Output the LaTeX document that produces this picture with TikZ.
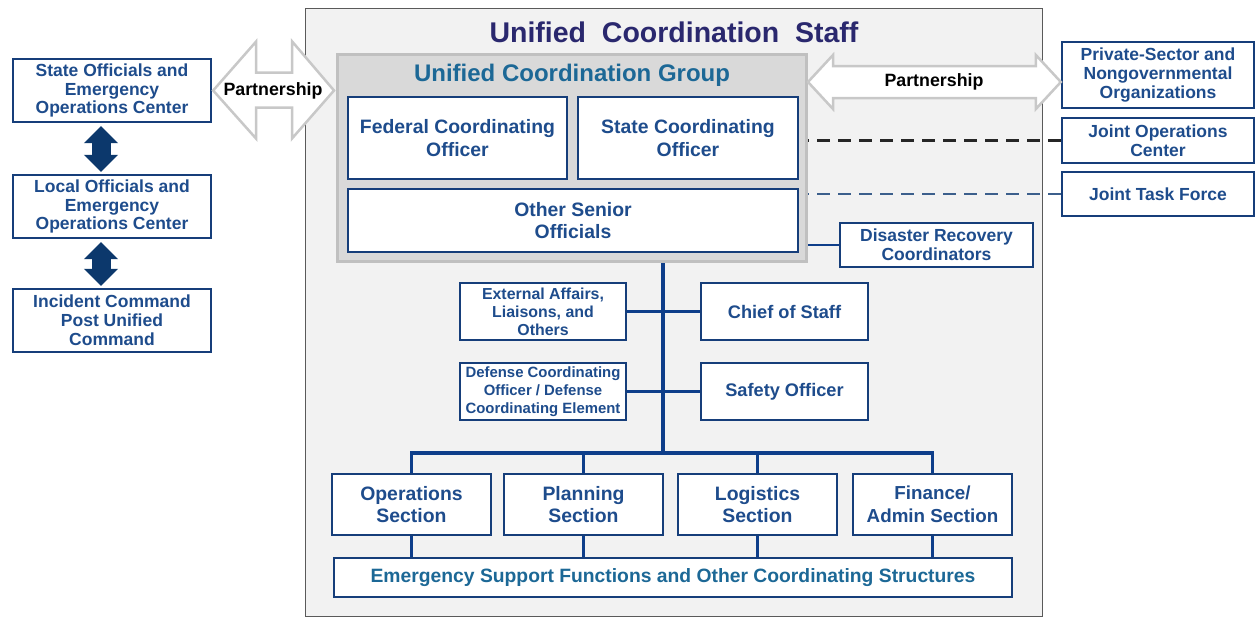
\documentclass[tikz,border=0pt]{standalone}
\usepackage{fontspec}
\setmainfont{Liberation Sans}
\usetikzlibrary{calc,arrows.meta}

\pgfdeclarelayer{frame}
\pgfdeclarelayer{links}
\pgfdeclarelayer{group}
\pgfsetlayers{frame,links,group,main}

\definecolor{navy}{RGB}{22,62,122}
\definecolor{boxtext}{RGB}{30,76,140}
\definecolor{ucteal}{RGB}{28,104,150}
\definecolor{titleblue}{RGB}{42,40,110}
\definecolor{linkblue}{RGB}{14,62,138}
\definecolor{arrownavy}{RGB}{12,56,108}
\definecolor{staffbg}{RGB}{242,242,242}
\definecolor{staffline}{RGB}{90,90,90}
\definecolor{groupbg}{RGB}{217,217,217}
\definecolor{groupline}{RGB}{192,192,192}
\definecolor{partline}{RGB}{200,200,200}
\definecolor{dashblue}{RGB}{60,95,140}

\tikzset{
  boxsize/.style 2 args={minimum width=#1, minimum height=#2},
  orgbox/.style={draw=navy, line width=2.3pt, fill=white, text=boxtext,
    font=\bfseries\fontsize{17.5}{18.8}\selectfont, align=center, inner sep=0pt},
  bigbox/.style={orgbox, font=\bfseries\fontsize{19.4}{22.8}\selectfont},
  link/.style={draw=linkblue, line width=3.8pt},
  thinlink/.style={draw=linkblue, line width=2.8pt},
  dashlink/.style={line width=2.8pt, dash pattern=on 13pt off 8pt},
  partarrow/.style={draw=partline, fill=white, line width=2.5pt, line join=miter},
  parttext/.style={font=\bfseries\fontsize{17.8}{20}\selectfont, text=black, inner sep=0pt},
  updown/.style={draw=arrownavy, line width=19pt,
    {Triangle[width=33pt,length=17pt]}-{Triangle[width=33pt,length=17pt]},
    shorten <=3pt, shorten >=2pt},
}

\begin{document}
\begin{tikzpicture}[x=1pt,y=-1pt]
\useasboundingbox (0,0) rectangle (1257,618);

% page and staff frame
\begin{pgfonlayer}{frame}
  \fill[white] (0,0) rectangle (1257,618);
  \node[draw=staffline, fill=staffbg, line width=1.5pt, inner sep=0pt,
        boxsize={737}{608}] (staff) at (674,312.5) {};
\end{pgfonlayer}
\node[font=\bfseries\fontsize{28.5}{30}\selectfont, text=titleblue, inner sep=0pt]
  (stafftitle) at (674,32) {Unified\ \ Coordination\ \ Staff};

% coordination group
\begin{pgfonlayer}{group}
  \node[draw=groupline, fill=groupbg, line width=3pt, inner sep=0pt,
        boxsize={469}{207}] (ucg) at (572,158) {};
\end{pgfonlayer}
\node[font=\bfseries\fontsize{24}{26}\selectfont, text=ucteal, inner sep=0pt]
  (ucgtitle) at (572,75) {Unified Coordination Group};
\node[bigbox, boxsize={219}{82}] (fco) at (457.5,138) {Federal Coordinating\\Officer};
\node[bigbox, boxsize={220}{82}] (sco) at (688,138) {State Coordinating\\Officer};
\node[bigbox, boxsize={450}{63}] (oso) at (573,220.5) {Other Senior\\Officials};

% state and local chain
\node[orgbox, boxsize={198}{63}] (state) at (112,90.5) {State Officials and\\Emergency\\Operations Center};
\node[orgbox, boxsize={198}{63}] (local) at (112,206.5) {Local Officials and\\Emergency\\Operations Center};
\node[orgbox, boxsize={198}{63}] (icp) at (112,320.5) {Incident Command\\Post Unified\\Command};
\draw[updown] ([xshift=-11pt]state.south) -- ([xshift=-11pt]local.north);
\draw[updown] ([xshift=-11pt]local.south) -- ([xshift=-11pt]icp.north);

% outside partners
\node[orgbox, boxsize={192}{66}] (psn) at (1158,75) {Private-Sector and\\Nongovernmental\\Organizations};
\node[orgbox, boxsize={192}{45}] (joc) at (1158,140.5) {Joint Operations\\Center};
\node[orgbox, boxsize={192}{44}] (jtf) at (1158,194) {Joint Task Force};
\node[orgbox, boxsize={193}{44}] (drc) at (936.5,245) {Disaster Recovery\\Coordinators};

% command staff
\node[orgbox, boxsize={166}{57}, font=\bfseries\fontsize{15.9}{18}\selectfont]
  (ext) at (543,311.5) {External Affairs,\\Liaisons, and\\Others};
\node[orgbox, boxsize={167}{57}, font=\bfseries\fontsize{18.2}{20}\selectfont]
  (chief) at (784.5,311.5) {Chief\ of\ Staff};
\node[orgbox, boxsize={166}{57}, font=\bfseries\fontsize{14.9}{17.7}\selectfont]
  (dco) at (543,391.5) {Defense Coordinating\\Officer / Defense\\Coordinating Element};
\node[orgbox, boxsize={167}{57}, font=\bfseries\fontsize{18.2}{20}\selectfont]
  (safety) at (784.5,391.5) {Safety\ Officer};

% general staff sections
\node[bigbox, boxsize={159}{61}] (ops) at (411.5,504.5) {Operations\\Section};
\node[bigbox, boxsize={159}{61}] (plan) at (583.5,504.5) {Planning\\Section};
\node[bigbox, boxsize={159}{61}] (log) at (757.5,504.5) {Logistics\\Section};
\node[bigbox, boxsize={159}{61}, font=\bfseries\fontsize{18.8}{22.8}\selectfont]
  (fin) at (932.5,504.5) {Finance/\\Admin\ Section};
\node[orgbox, boxsize={678}{39}, text=ucteal, font=\bfseries\fontsize{19.3}{20}\selectfont]
  (esf) at (673,577.5) {Emergency\ Support Functions and Other Coordinating Structures};

% connectors
\coordinate (bus) at (663,453);
\coordinate (prt) at (0,82);
\begin{pgfonlayer}{links}
  \draw[link] (ucg.south -| bus) -- (bus);
  \draw[link] (ext.east) -- (chief.west);
  \draw[link] (dco.east) -- (safety.west);
  \draw[link] (ops.north) |- (fin.north |- bus) -- (fin.north);
  \draw[link] (plan.north) -- (plan.north |- bus);
  \draw[link] (log.north) -- (log.north |- bus);
  \foreach \s in {ops,plan,log,fin}
    \draw[link] (\s.south) -- (\s.south |- esf.north);
  \draw[thinlink] (drc.west) -- (drc.west -| oso.east);
  \draw[dashlink, draw=black!85] (joc.west) -- (joc.west -| sco.east);
  \draw[dashlink, draw=dashblue] (jtf.west) -- (jtf.west -| oso.east);
\end{pgfonlayer}

% partnership arrows
\draw[partarrow] ([xshift=1pt]state.east) -- ++(43,-49) -- ++(0,31) -- ++(36,0) -- ++(0,-31)
  -- ([xshift=-2pt]ucg.west |- state.east) -- ++(-42,48) -- ++(0,-31) -- ++(-36,0) -- ++(0,31) -- cycle;
\node[parttext] (partleft) at (273,91) {Partnership};
\coordinate (pa) at (ucg.east |- prt);
\coordinate (pb) at (psn.west |- prt);
\draw[partarrow] (pa) -- ++(25,-27) -- ++(0,11) -- ($(pb)+(-25,-16)$) -- ++(0,-11)
  -- (pb) -- ++(-25,27) -- ++(0,-11) -- ($(pa)+(25,16)$) -- ++(0,11) -- cycle;
\node[parttext] (partright) at (934,82) {Partnership};
\end{tikzpicture}
\end{document}
